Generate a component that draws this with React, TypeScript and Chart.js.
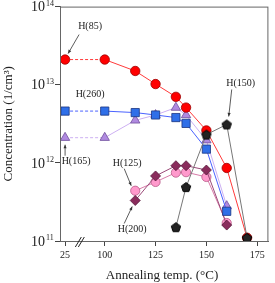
import React, { useEffect, useRef } from 'react';
import { Chart, registerables } from 'chart.js';
Chart.register(...registerables);

// ---- data ----
const AXIS_BREAK_POS = 80.5; // axis position used for the 25 °C point (broken axis)
const xTickTemps = [25, 100, 125, 150, 175];
const yTickExps = [11, 12, 13, 14];

const tempsH85 = [25, 100, 115, 125, 135, 140, 150, 160, 170];
const valsH85 = [2.1e13, 2.1e13, 1.5e13, 1.02e13, 7.0e12, 5.1e12, 2.6e12, 8.6e11, 1.1e11];
const tempsH260 = [25, 100, 115, 125, 135, 140, 150, 160];
const valsH260 = [4.6e12, 4.6e12, 4.4e12, 4.1e12, 3.8e12, 3.2e12, 1.5e12, 2.4e11];
const tempsH165 = [25, 100, 115, 125, 135, 140, 150, 160];
const valsH165 = [2.1e12, 2.1e12, 3.5e12, 4.1e12, 5.1e12, 4.1e12, 1.95e12, 2.8e11];
const tempsH125 = [115, 125, 135, 140, 150, 160];
const valsH125 = [4.4e11, 5.7e11, 7.5e11, 7.6e11, 6.6e11, 1.7e11];
const tempsH200 = [115, 125, 135, 140, 150, 160];
const valsH200 = [3.3e11, 6.8e11, 9.2e11, 9.2e11, 8.1e11, 1.6e11];
const tempsH150 = [135, 140, 150, 160, 170];
const valsH150 = [1.5e11, 4.9e11, 2.3e12, 3.1e12, 1.1e11];

const xPos = (t: number) => (t === 25 ? AXIS_BREAK_POS : t);
const pts = (ts: number[], vs: number[]) => ts.map((t, i) => ({ x: xPos(t), y: vs[i] }));

const FONT = "'Liberation Serif', 'Times New Roman', serif";

function makePentagon(): HTMLCanvasElement {
  const c = document.createElement('canvas');
  c.width = 12; c.height = 12;
  const g = c.getContext('2d')!;
  const r = 4.9, cx = 6, cy = 6.4;
  g.beginPath();
  for (let i = 0; i < 5; i++) {
    const a = -Math.PI / 2 + (i * 2 * Math.PI) / 5;
    const x = cx + r * Math.cos(a), y = cy + r * Math.sin(a);
    if (i === 0) g.moveTo(x, y); else g.lineTo(x, y);
  }
  g.closePath();
  g.fillStyle = '#222';
  g.fill();
  g.strokeStyle = '#000';
  g.lineWidth = 1;
  g.stroke();
  return c;
}

const dashFirst = { borderDash: (ctx: any) => (ctx.p0DataIndex === 0 ? [3, 2] : undefined) };

// annotations: label, target series point, text offset, arrow start/end offsets
const annotations = [
  { text: 'H(85)', t: 25, v: valsH85[0], tx: 25, ty: -33, a: [14, -25, 3, -6] },
  { text: 'H(260)', t: 25, v: valsH260[0], tx: 25, ty: -17, a: null },
  { text: 'H(165)', t: 25, v: valsH165[0], tx: 11, ty: 24, a: [0, 18, 0, 7] },
  { text: 'H(125)', t: 115, v: valsH125[0], tx: -8, ty: -27, a: [-11, -22, -4, -5] },
  { text: 'H(200)', t: 115, v: valsH200[0], tx: -3, ty: 29, a: [-11, 23, -3, 6] },
  { text: 'H(150)', t: 160, v: valsH150[3], tx: 14, ty: -41, a: [5, -35, 2, -8] },
];

const decorPlugin = {
  id: 'decor',
  afterDatasetsDraw(chart: any) {
    const { ctx, chartArea: ca, scales } = chart;
    const xs = scales.x, ys = scales.y;
    ctx.save();
    // frame
    ctx.strokeStyle = '#666';
    ctx.lineWidth = 1;
    ctx.strokeRect(ca.left + 0.5, ca.top + 0.5, ca.right - ca.left - 1, ca.bottom - ca.top);
    // axis break marks
    const bx = xs.getPixelForValue(88);
    ctx.strokeStyle = '#222';
    ctx.beginPath();
    ctx.moveTo(bx - 5, ca.bottom + 6); ctx.lineTo(bx + 1, ca.bottom - 4);
    ctx.moveTo(bx - 2, ca.bottom + 6); ctx.lineTo(bx + 4, ca.bottom - 4);
    ctx.stroke();
    // y tick labels with superscripts
    ctx.fillStyle = '#222';
    yTickExps.forEach((e) => {
      const y = ys.getPixelForValue(Math.pow(10, e));
      ctx.font = `14px ${FONT}`;
      ctx.textAlign = 'right';
      ctx.textBaseline = 'middle';
      ctx.fillText('10', 45, y + 1);
      ctx.font = `8px ${FONT}`;
      ctx.textAlign = 'left';
      ctx.textBaseline = 'alphabetic';
      ctx.fillText(String(e), 46, y - 1);
    });
    // axis titles
    ctx.font = `13px ${FONT}`;
    ctx.textAlign = 'center';
    ctx.textBaseline = 'middle';
    ctx.fillText('Annealing temp. (°C)', 162, 276);
    ctx.save();
    ctx.translate(9, (ca.top + ca.bottom) / 2);
    ctx.rotate(-Math.PI / 2);
    ctx.fillText('Concentration (1/cm³)', 0, 0);
    ctx.restore();
    // annotations
    ctx.font = `10px ${FONT}`;
    annotations.forEach((an) => {
      const px = xs.getPixelForValue(xPos(an.t));
      const py = ys.getPixelForValue(an.v);
      ctx.fillStyle = '#222';
      ctx.textAlign = 'center';
      ctx.textBaseline = 'middle';
      ctx.fillText(an.text, px + an.tx, py + an.ty);
      if (an.a) {
        const x1 = px + an.a[0], y1 = py + an.a[1], x2 = px + an.a[2], y2 = py + an.a[3];
        ctx.strokeStyle = '#333';
        ctx.lineWidth = 0.8;
        ctx.beginPath();
        ctx.moveTo(x1, y1); ctx.lineTo(x2, y2);
        ctx.stroke();
        const ang = Math.atan2(y2 - y1, x2 - x1);
        ctx.fillStyle = '#333';
        ctx.beginPath();
        ctx.moveTo(x2, y2);
        ctx.lineTo(x2 - 4 * Math.cos(ang - 0.4), y2 - 4 * Math.sin(ang - 0.4));
        ctx.lineTo(x2 - 4 * Math.cos(ang + 0.4), y2 - 4 * Math.sin(ang + 0.4));
        ctx.closePath();
        ctx.fill();
      }
    });
    ctx.restore();
  },
};

export default function App() {
  const ref = useRef<HTMLCanvasElement | null>(null);
  useEffect(() => {
    if (!ref.current) return;
    const pent = makePentagon();
    const chart = new Chart(ref.current, {
      type: 'line',
      data: {
        datasets: [
          {
            label: 'H(150)', data: pts(tempsH150, valsH150),
            borderColor: '#777', borderWidth: 1, pointStyle: pent as any,
            pointRadius: 5, backgroundColor: '#222',
          },
          {
            label: 'H(85)', data: pts(tempsH85, valsH85), segment: dashFirst as any,
            borderColor: '#ff3a3a', borderWidth: 1, pointStyle: 'circle', pointRadius: 4.7,
            pointBackgroundColor: '#ff0000', pointBorderColor: '#9a0000', pointBorderWidth: 0.8,
          },
          {
            label: 'H(260)', data: pts(tempsH260, valsH260), segment: dashFirst as any,
            borderColor: '#4a62ff', borderWidth: 1, pointStyle: 'rect', pointRadius: 5.8,
            pointBackgroundColor: '#2f6fe8', pointBorderColor: '#1b3580', pointBorderWidth: 0.8,
          },
          {
            label: 'H(165)', data: pts(tempsH165, valsH165), segment: dashFirst as any,
            borderColor: '#cdb0f2', borderWidth: 1, pointStyle: 'triangle', pointRadius: 5.4,
            pointBackgroundColor: '#b08ae0', pointBorderColor: '#6e4e9a', pointBorderWidth: 0.8,
          },
          {
            label: 'H(200)', data: pts(tempsH200, valsH200),
            borderColor: '#9a4a78', borderWidth: 1, pointStyle: 'rectRot', pointRadius: 5,
            pointBackgroundColor: '#8a2c5c', pointBorderColor: '#55183a', pointBorderWidth: 0.8,
          },
          {
            label: 'H(125)', data: pts(tempsH125, valsH125),
            borderColor: '#d77aa8', borderWidth: 1, pointStyle: 'circle', pointRadius: 4.6,
            pointBackgroundColor: '#ff99cc', pointBorderColor: '#b85a88', pointBorderWidth: 0.8,
          },
        ],
      },
      options: {
        responsive: false,
        animation: false,
        events: [],
        layout: { padding: { top: 6, right: 2, left: 0, bottom: 0 } },
        plugins: { legend: { display: false }, tooltip: { enabled: false } },
        scales: {
          x: {
            type: 'linear', min: 78, max: 180.5,
            afterBuildTicks: (s: any) => { s.ticks = xTickTemps.map((t) => ({ value: xPos(t) })); },
            afterFit: (s: any) => { s.height = 42; },
            ticks: {
              autoSkip: false, maxRotation: 0, padding: 3, color: '#222',
              font: { family: FONT, size: 10 },
              callback: (v: any) => (v === AXIS_BREAK_POS ? '25' : String(v)),
            },
            grid: { drawOnChartArea: false, drawTicks: true, tickLength: 5, color: '#444' },
            border: { display: true, color: '#666' },
          },
          y: {
            type: 'logarithmic', min: 1e11, max: 1e14,
            afterBuildTicks: (s: any) => { s.ticks = yTickExps.map((e) => ({ value: Math.pow(10, e) })); },
            afterFit: (s: any) => { s.width = 60; },
            ticks: { display: false },
            grid: { drawOnChartArea: false, drawTicks: true, tickLength: 5, color: '#444' },
            border: { display: true, color: '#666' },
          },
        },
      },
      plugins: [decorPlugin],
    });
    return () => chart.destroy();
  }, []);
  return (
    <div style={{ position: 'absolute', left: 0, top: 0, width: 275, height: 283, background: '#fff' }}>
      <canvas ref={ref} width={275} height={283} />
    </div>
  );
}
